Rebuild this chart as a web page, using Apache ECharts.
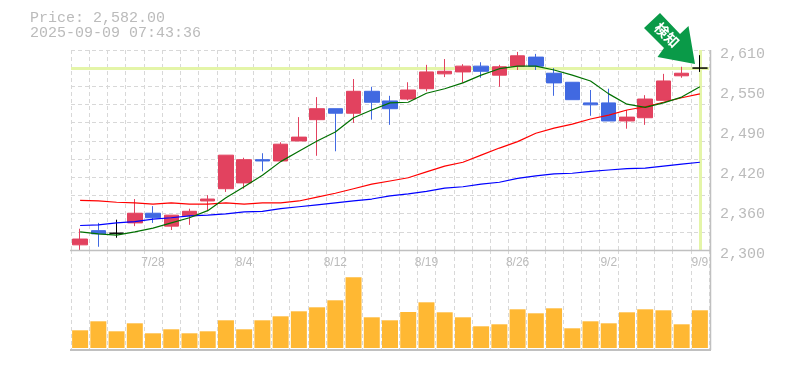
<!DOCTYPE html>
<html><head><meta charset="utf-8">
<style>html,body{margin:0;padding:0;background:#fff}#c{width:785px;height:370px}</style>
<script src="https://cdn.jsdelivr.net/npm/echarts@6/dist/echarts.min.js"></script>
</head><body><div id="c"></div>
<script>
const dates = ['7/22','7/23','7/24','7/25','7/28','7/29','7/30','7/31','8/1','8/4','8/5','8/6','8/7','8/8','8/12','8/13','8/14','8/15','8/18','8/19','8/20','8/21','8/22','8/25','8/26','8/27','8/28','8/29','9/1','9/2','9/3','9/4','9/5','9/8','9/9'];
const labelledDates = ['7/28','8/4','8/12','8/19','8/26','9/2','9/9'];
// open, close, low, high
const ohlc = [[2308,2317,2299,2333],[2330,2325,2305,2342],[2326,2326,2319,2347],[2342,2357,2337,2379],[2357,2350,2342,2368],[2337,2354,2331,2354],[2353,2360,2339,2364],[2376,2379,2360,2385],[2395,2447,2390,2447],[2404,2440,2395,2443],[2440,2438,2422,2450],[2438,2464,2438,2467],[2469,2475,2469,2506],[2502,2519,2446,2537],[2519,2512,2453,2519],[2512,2546,2497,2565],[2546,2529,2502,2553],[2531,2519,2494,2539],[2534,2548,2532,2560],[2550,2576,2546,2587],[2573,2577,2568,2596],[2576,2585,2559,2588],[2585,2577,2567,2591],[2571,2584,2553,2587],[2585,2601,2579,2607],[2599,2585,2579,2604],[2574,2559,2539,2582],[2560,2533,2533,2560],[2528,2525,2508,2548],[2528,2500,2500,2550],[2500,2506,2488,2517],[2505,2534,2494,2540],[2532,2562,2532,2573],[2570,2574,2567,2584],[2582,2582,2576,2602]];
const maShort = [2328,2325,2323,2328,2334,2342,2350,2361,2381,2398,2416,2437,2453,2469,2483,2505,2517,2528,2529,2543,2550,2559,2571,2581,2585,2585,2579,2571,2562,2542,2526,2521,2528,2537,2553];
const maMid = [2377,2376,2374,2373,2371,2373,2371,2371,2373,2371,2373,2373,2376,2382,2388,2395,2402,2407,2412,2421,2430,2436,2447,2458,2468,2481,2489,2495,2503,2509,2517,2522,2529,2536,2542];
const maLong = [2338,2339,2342,2344,2348,2350,2353,2354,2356,2359,2360,2364,2367,2370,2373,2376,2379,2384,2387,2391,2396,2398,2402,2405,2411,2415,2418,2419,2422,2424,2426,2427,2430,2433,2436];
const volume = [177,267,167,247,147,187,147,167,277,187,277,317,367,407,477,707,307,277,360,457,357,307,217,237,387,347,397,197,267,247,357,387,377,237,377];
const priceTicks = [2300,2362,2424,2486,2548,2610];
const priceValue = 2582;
const titleLines = ['Price: 2,582.00','2025-09-09 07:43:36'];
const badgeText = '検知';

const MONO = '"Liberation Mono", monospace';
const GRAY = '#bbbbbb';
const GRID = '#d8d8d8';
const FRAME = '#c0c0c0';
const chart = echarts.init(document.getElementById('c'), null, {renderer:'canvas'});
const dashed = {show:true, interval:0, lineStyle:{color:GRID, width:1, type:[4,3]}};
const lineOf = (name,data,color)=>({name,type:'line',data,xAxisIndex:0,yAxisIndex:0,symbol:'none',smooth:false,z:4,silent:true,animation:false,lineStyle:{color,width:1.2}});
chart.setOption({
  animation:false,
  backgroundColor:'#fff',
  title:{text:titleLines.join('\n'),left:30,top:10,padding:0,textStyle:{fontFamily:MONO,fontSize:15,fontWeight:'normal',color:GRAY,lineHeight:15.5}},
  grid:[
    {left:71,top:50,width:638,height:200},
    {left:71,top:250,width:638,height:100}
  ],
  xAxis:[
    {type:'category',gridIndex:0,data:dates,boundaryGap:true,
      axisLine:{show:false},axisTick:{show:false},splitLine:dashed,
      axisLabel:{color:GRAY,fontFamily:'"Liberation Sans"',fontSize:12,margin:7,
        interval:(i,v)=>labelledDates.includes(v)}},
    {type:'category',gridIndex:1,data:dates,boundaryGap:true,
      axisLine:{show:false},axisTick:{show:false},splitLine:dashed,axisLabel:{show:false}}
  ],
  yAxis:[
    {type:'value',gridIndex:0,position:'right',min:2300,max:2610,
      axisLine:{show:false},axisTick:{show:false},splitLine:{show:false},
      axisLabel:{customValues:priceTicks,color:GRAY,fontFamily:MONO,fontSize:15,margin:11,verticalAlign:'top',lineHeight:8,
        formatter:v=>(Math.round(v/10)*10).toLocaleString('en-US')}},
    {type:'value',gridIndex:0,min:0,max:11,interval:1,position:'left',
      axisLine:{show:false},axisTick:{show:false},axisLabel:{show:false},
      splitLine:{show:true,lineStyle:{color:GRID,width:1,type:[4,3]}}},
    {type:'value',gridIndex:1,min:-20,max:980,
      axisLine:{show:false},axisTick:{show:false},axisLabel:{show:false},splitLine:{show:false}}
  ],
  series:[
    {name:'price',type:'line',data:[],xAxisIndex:0,yAxisIndex:0,z:1,silent:true,
      markLine:{silent:true,symbol:'none',animation:false,z:1,label:{show:false},
        lineStyle:{color:'#e4f5a8',width:3,type:'solid'},
        data:[{yAxis:priceValue},{xAxis:dates[dates.length-1]}]}},
    {name:'ohlc',type:'candlestick',data:ohlc,xAxisIndex:0,yAxisIndex:0,barWidth:15,z:3,clip:false,silent:true,
      itemStyle:{color:'#e2425f',color0:'#4169e1',borderColor:'#e2425f',borderColor0:'#4169e1',borderColorDoji:'#000000',borderWidth:1}},
    lineOf('long',maLong,'#0000ff'),
    lineOf('mid',maMid,'#ff0000'),
    lineOf('short',maShort,'#007000'),
    {name:'volume',type:'bar',data:volume,xAxisIndex:1,yAxisIndex:2,barWidth:16,silent:true,z:3,itemStyle:{color:'#ffb833'}}
  ],
  graphic:[
    {type:'line',z:5,shape:{x1:70,y1:250.5,x2:711,y2:250.5},style:{stroke:FRAME,lineWidth:1.5}},
    {type:'line',z:5,shape:{x1:70,y1:350,x2:711,y2:350},style:{stroke:FRAME,lineWidth:2}},
    {type:'line',z:5,shape:{x1:710.5,y1:50,x2:710.5,y2:350},style:{stroke:FRAME,lineWidth:1.5}},
    {type:'polygon',z:6,shape:{points:[[660,13],[644,28],[664,48],[657.5,57],[695,64],[688.5,26],[680,34]]},style:{fill:'#0a9a48'}},
    {type:'text',z:7,x:667,y:35,rotation:-Math.PI/4,style:{text:badgeText,fill:'#fff',font:'bold 14px "Noto Sans CJK JP"',align:'center',verticalAlign:'middle'}}
  ]
});
</script></body></html>
